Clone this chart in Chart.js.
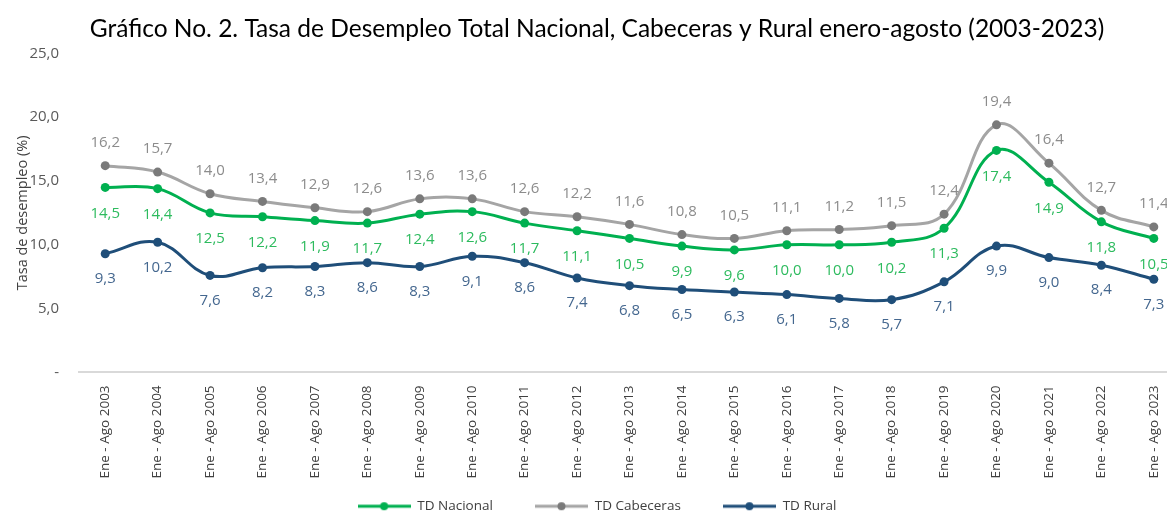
<!DOCTYPE html>
<html>
<head>
<meta charset="utf-8">
<script src="https://cdn.jsdelivr.net/npm/chart.js@4"></script>
<style>
    html, body { margin: 0; padding: 0; background: #fff; overflow: hidden; }
    #wrap { position: relative; width: 1190px; height: 511px; }
</style>
</head>
<body>
<div id="wrap"><canvas id="desempleoChart"></canvas></div>
<script>
const years = ['2003', '2004', '2005', '2006', '2007', '2008', '2009', '2010', '2011', '2012', '2013',
    '2014', '2015', '2016', '2017', '2018', '2019', '2020', '2021', '2022', '2023'];
const categories = years.map(y => 'Ene - Ago ' + y);

const tdNacional = [14.5, 14.4, 12.5, 12.2, 11.9, 11.7, 12.4, 12.6, 11.7, 11.1, 10.5,
    9.9, 9.6, 10.0, 10.0, 10.2, 11.3, 17.4, 14.9, 11.8, 10.5];
const tdCabeceras = [16.2, 15.7, 14.0, 13.4, 12.9, 12.6, 13.6, 13.6, 12.6, 12.2, 11.6,
    10.8, 10.5, 11.1, 11.2, 11.5, 12.4, 19.4, 16.4, 12.7, 11.4];
const tdRural = [9.3, 10.2, 7.6, 8.2, 8.3, 8.6, 8.3, 9.1, 8.6, 7.4, 6.8,
    6.5, 6.3, 6.1, 5.8, 5.7, 7.1, 9.9, 9.0, 8.4, 7.3];

const yTicks = [0, 5, 10, 15, 20, 25];

const fmt = v => v.toFixed(1).replace('.', ',');

// little line+dot swatch for the legend, like the Excel one
function legendSwatch(color, dotColor) {
    const c = document.createElement('canvas');
    c.width = 53;
    c.height = 10;
    const ctx = c.getContext('2d');
    ctx.strokeStyle = color;
    ctx.lineWidth = 3;
    ctx.beginPath();
    ctx.moveTo(0, 5);
    ctx.lineTo(53, 5);
    ctx.stroke();
    ctx.fillStyle = dotColor;
    ctx.beginPath();
    ctx.arc(26.5, 5, 4, 0, Math.PI * 2);
    ctx.fill();
    return c;
}

const valueLabels = {
    id: 'valueLabels',
    afterDatasetsDraw(chart) {
        const ctx = chart.ctx;
        ctx.save();
        ctx.font = '15px "Open Sans", sans-serif';
        ctx.textAlign = 'center';
        ctx.textBaseline = 'middle';
        chart.data.datasets.forEach((ds, i) => {
            const meta = chart.getDatasetMeta(i);
            ctx.fillStyle = ds.labelColor;
            meta.data.forEach((pt, j) => {
                ctx.fillText(fmt(ds.data[j]), pt.x, pt.y + ds.labelOffset);
            });
        });
        ctx.restore();
    }
};

new Chart(document.getElementById('desempleoChart'), {
    type: 'line',
    data: {
        labels: categories,
        datasets: [{
            label: 'TD Nacional',
            data: tdNacional,
            borderColor: '#00b050',
            backgroundColor: '#00b050',
            labelColor: '#2dbb5e',
            labelOffset: 26,
            gap: '            ',
            swatch: legendSwatch('#00b050', '#00b050')
        }, {
            label: 'TD Cabeceras',
            data: tdCabeceras,
            borderColor: '#a5a5a5',
            backgroundColor: '#7a7a7a',
            labelColor: '#8c8c8c',
            labelOffset: -23,
            gap: '            ',
            swatch: legendSwatch('#a5a5a5', '#7a7a7a')
        }, {
            label: 'TD Rural',
            data: tdRural,
            borderColor: '#1f4e79',
            backgroundColor: '#1f4e79',
            labelColor: '#44678f',
            labelOffset: 25,
            gap: '',
            swatch: legendSwatch('#1f4e79', '#1f4e79')
        }]
    },
    options: {
        responsive: true,
        maintainAspectRatio: false,
        animation: false,
        elements: {
            line: { tension: 0.4, borderWidth: 3 },
            point: { radius: 4.5, borderWidth: 0, hoverRadius: 4.5 }
        },
        layout: { padding: { top: 2, right: 10, bottom: -12, left: 14 } },
        plugins: {
            title: {
                display: true,
                text: 'Gráfico No. 2. Tasa de Desempleo Total Nacional, Cabeceras y Rural enero-agosto (2003-2023)',
                color: '#000',
                font: { family: 'Lato, sans-serif', size: 24.5, weight: 'normal' },
                padding: { top: 12, bottom: 10 }
            },
            legend: {
                position: 'bottom',
                labels: {
                    usePointStyle: true,
                    pointStyleWidth: 53,
                    boxHeight: 10,
                    padding: 0,
                    color: '#404040',
                    font: { family: '"Open Sans", sans-serif', size: 13.5 },
                    generateLabels(chart) {
                        return chart.data.datasets.map((ds, i) => ({
                            text: ds.label + ds.gap,
                            pointStyle: ds.swatch,
                            fontColor: '#404040',
                            datasetIndex: i,
                            hidden: false,
                            lineWidth: 0
                        }));
                    }
                }
            },
            tooltip: { enabled: false }
        },
        scales: {
            x: {
                offset: true,
                grid: { display: false },
                border: { color: '#d9d9d9', width: 2 },
                afterFit(scale) {
                    scale.height += 16;
                },
                ticks: {
                    color: '#404040',
                    font: { family: '"Open Sans", sans-serif', size: 13.5 },
                    maxRotation: 90,
                    minRotation: 90,
                    padding: 5
                }
            },
            y: {
                min: 0,
                max: 25,
                afterBuildTicks(scale) {
                    scale.ticks = yTicks.map(v => ({ value: v }));
                },
                afterFit(scale) {
                    scale.width = 65;
                },
                grid: { display: false },
                border: { display: false },
                ticks: {
                    color: '#595959',
                    font: { family: '"Open Sans", sans-serif', size: 15 },
                    padding: 12,
                    callback: v => v === 0 ? '-' : fmt(v)
                },
                title: {
                    display: true,
                    text: 'Tasa de desempleo (%)',
                    color: '#404040',
                    font: { family: '"Open Sans", sans-serif', size: 14.5 },
                    padding: { top: 0, bottom: 0 }
                }
            }
        }
    },
    plugins: [valueLabels]
});
</script>
</body>
</html>
